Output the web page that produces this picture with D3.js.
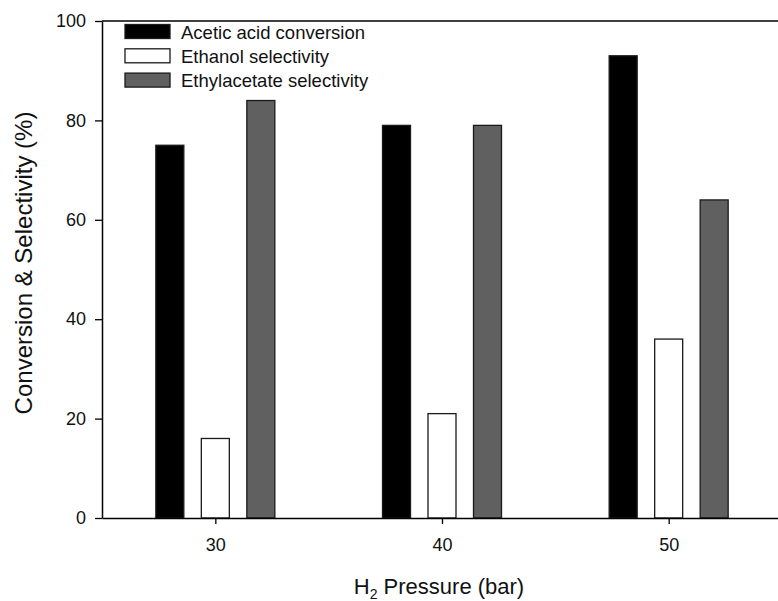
<!DOCTYPE html>
<html>
<head>
<meta charset="utf-8">
<script src="https://cdn.jsdelivr.net/npm/d3@7"></script>
<style>
  html, body { margin: 0; padding: 0; background: #fff; }
  svg { display: block; font-family: "Liberation Sans", Arial, sans-serif; }
</style>
</head>
<body>
<svg id="chart" width="778" height="601"></svg>
<script>
const pressures = [30, 40, 50];
const seriesNames = ["Acetic acid conversion", "Ethanol selectivity", "Ethylacetate selectivity"];
const aceticConversion = [75, 79, 93];
const ethanolSelectivity = [16, 21, 36];
const ethylacetateSelectivity = [84, 79, 64];
const yTicks = [0, 20, 40, 60, 80, 100];
const xTicks = [30, 40, 50];
const fills = ["#000000", "#ffffff", "#606060"];

const series = [aceticConversion, ethanolSelectivity, ethylacetateSelectivity];

const svg = d3.select("#chart");
const mLeft = 102, mRight = 782, mTop = 21, mBottom = 518;

const x = d3.scaleLinear().domain([25, 55]).range([mLeft, mRight]);
const y = d3.scaleLinear().domain([0, 100]).range([mBottom, mTop]);

const barW = 28;
const step = 45.5;

// bars
series.forEach((vals, si) => {
  svg.append("g").selectAll("rect")
    .data(vals.map((v, i) => ({ p: pressures[i], v })))
    .join("rect")
    .attr("x", d => x(d.p) + (si - 1) * step - barW / 2)
    .attr("y", d => y(d.v))
    .attr("width", barW)
    .attr("height", d => y(0) - y(d.v))
    .attr("fill", fills[si])
    .attr("stroke", "#1a1a1a")
    .attr("stroke-width", 1.3);
});

// axes
const yAxis = svg.append("g")
  .attr("transform", `translate(${mLeft},0)`)
  .call(d3.axisLeft(y).tickValues(yTicks).tickSize(7).tickPadding(9).tickSizeOuter(0));
const xAxis = svg.append("g")
  .attr("transform", `translate(0,${mBottom})`)
  .call(d3.axisBottom(x).tickValues(xTicks).tickSize(6).tickPadding(14).tickSizeOuter(0));
// top frame line
svg.append("line")
  .attr("x1", mLeft).attr("x2", mRight)
  .attr("y1", y(100)).attr("y2", y(100))
  .attr("stroke", "#000").attr("stroke-width", 1.5);

[yAxis, xAxis].forEach(g => {
  g.selectAll("path.domain").attr("stroke", "#000").attr("stroke-width", 1.5);
  g.selectAll(".tick line").attr("stroke", "#000").attr("stroke-width", 1.3);
  g.selectAll(".tick text")
    .attr("fill", "#111")
    .style("font-family", "'Liberation Sans', Arial, sans-serif")
    .style("font-size", "18px");
});

// axis titles
svg.append("text")
  .attr("transform", `translate(32,263) rotate(-90)`)
  .attr("text-anchor", "middle")
  .style("font-size", "24px")
  .attr("fill", "#111")
  .text("Conversion & Selectivity (%)");

const xt = svg.append("text")
  .attr("x", 439).attr("y", 594)
  .attr("text-anchor", "middle")
  .style("font-size", "22px")
  .attr("fill", "#111");
xt.append("tspan").text("H");
xt.append("tspan").attr("dy", 5).style("font-size", "14px").text("2");
xt.append("tspan").attr("dy", -5).text(" Pressure (bar)");

// legend
const legend = svg.append("g");
seriesNames.forEach((name, i) => {
  const cy = 31.5 + i * 24.3;
  legend.append("rect")
    .attr("x", 125).attr("y", cy - 7)
    .attr("width", 45).attr("height", 14)
    .attr("fill", fills[i])
    .attr("stroke", "#1a1a1a").attr("stroke-width", 1.3);
  legend.append("text")
    .attr("x", 181).attr("y", cy + 7)
    .style("font-size", "18.5px")
    .attr("fill", "#111")
    .text(name);
});
</script>
</body>
</html>
